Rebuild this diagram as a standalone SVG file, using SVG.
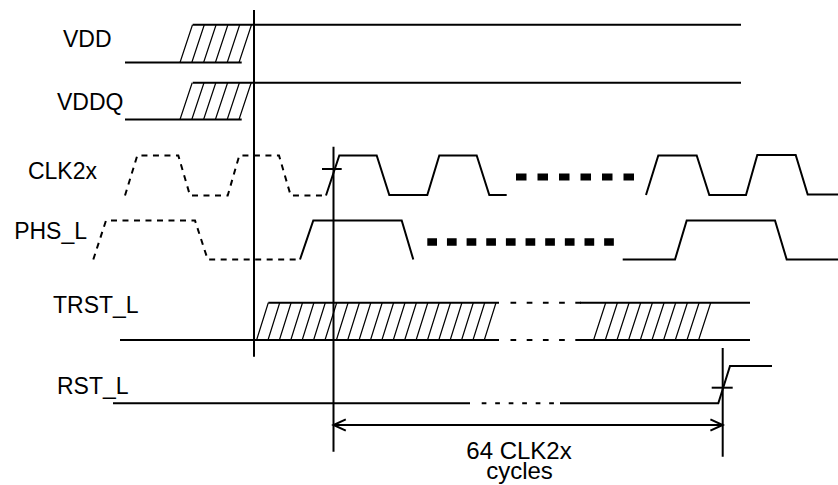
<svg xmlns="http://www.w3.org/2000/svg" width="838" height="485" viewBox="0 0 838 485">
<style>
.lbl{font-family:"Liberation Sans",Arial,sans-serif;font-size:23px;fill:#000}
.dim{font-family:"Liberation Sans",Arial,sans-serif;font-size:24px;fill:#000;text-anchor:middle}
.w{fill:none;stroke:#000;stroke-width:2;stroke-linejoin:miter}
.d{fill:none;stroke:#000;stroke-width:2;stroke-dasharray:6 5.5}
.h{fill:none;stroke:#000;stroke-width:1.2}
.big{fill:none;stroke:#000}
</style>
<rect width="838" height="485" fill="#fff"/>
<g id="VDD">
<text class="lbl" x="63" y="47">VDD</text>
<path class="w" d="M125,62.5H241.7M192.7,24.7H741"/>
<path class="h" d="M180,62.5l12.5,-37.8M191.8,62.5l12.5,-37.8M203.6,62.5l12.5,-37.8M215.4,62.5l12.5,-37.8M227.2,62.5l12.5,-37.8M239,62.5l12.5,-37.8"/>
</g>
<g id="VDDQ">
<text class="lbl" x="57" y="110">VDDQ</text>
<path class="w" d="M125,119.5H241.7M192.7,82.7H741"/>
<path class="h" d="M180,119.5l12.2,-36.8M191.8,119.5l12.2,-36.8M203.6,119.5l12.2,-36.8M215.4,119.5l12.2,-36.8M227.2,119.5l12.2,-36.8M239,119.5l12.2,-36.8"/>
</g>
<g id="CLK2x">
<text class="lbl" x="97" y="179" text-anchor="end">CLK2x</text>
<path class="d" d="M125,195.5L137.3,155.5H178.3L190,195.5H227.7L239.3,155.5H279L290.7,195.5H326"/>
<path class="w" d="M326,195.5L339.3,155.5H376.7L389.3,195H427.3L439.3,155.5H476.7L489.3,195H506.7"/>
<path class="w" d="M322,169H341.7"/>
<line class="big" x1="516" y1="177" x2="634" y2="177" stroke-width="7" stroke-dasharray="10.5 11"/>
<path class="w" d="M646,195L658.3,155.5H696.7L709.3,195H746L757.3,155H795.7L807.7,194.5H838"/>
</g>
<g id="PHS_L">
<text class="lbl" x="87" y="239" text-anchor="end">PHS_L</text>
<path class="d" d="M93.3,259.5L106,220.5H195L207.7,259.5H300"/>
<path class="w" d="M300,259.5L313.3,220.5H401.7L413.3,259.5"/>
<line class="big" x1="427.3" y1="242" x2="614" y2="242" stroke-width="7.5" stroke-dasharray="9.7 9.95"/>
<path class="w" d="M622.7,259.5H675L686.7,220.5H775L786.7,259.5H838"/>
</g>
<g id="TRST_L">
<text class="lbl" x="53" y="313">TRST_L</text>
<path class="w" d="M268.3,302.7H499M120,340H499M580,302.7H750M580,340H750"/>
<path class="w" d="M510.5,302.7H581M510.5,340H581" stroke-dasharray="5.7 10.5"/>
<path class="h" d="M256.6,340L268.3,302.7M268,340L279.7,302.7M279.4,340L291.1,302.7M290.8,340L302.5,302.7M302.2,340L313.9,302.7M313.6,340L325.3,302.7M325,340L336.7,302.7M336.4,340L348.1,302.7M347.7,340L359.4,302.7M359.1,340L370.8,302.7M370.5,340L382.2,302.7M381.9,340L393.6,302.7M393.3,340L405,302.7M404.7,340L416.4,302.7M416.1,340L427.8,302.7M427.5,340L439.2,302.7M438.8,340L450.5,302.7M450.2,340L461.9,302.7M461.6,340L473.3,302.7M473,340L484.7,302.7M484.3,340L496,302.7"/>
<path class="h" d="M593.6,340L605.7,302.7M605.3,340L617.4,302.7M617,340L629.1,302.7M628.6,340L640.7,302.7M640.3,340L652.4,302.7M652,340L664.1,302.7M663.6,340L675.7,302.7M675.3,340L687.4,302.7M687,340L699.1,302.7M698.6,340L710.7,302.7"/>
</g>
<g id="RST_L">
<text class="lbl" x="57" y="394">RST_L</text>
<path class="w" d="M113,403.3H470M560,403.3H718.3L730,366H772"/>
<path class="w" d="M481.7,403.3H555" stroke-dasharray="4.7 8.8"/>
<path class="w" d="M711.7,387.7H732.7"/>
</g>
<g id="connectors">
<path class="w" d="M254,10V356.7M333.5,146.7V451.7M722.7,348V456.7"/>
<path class="w" d="M333.5,425H722.7" stroke-width="1.6"/>
<path class="w" d="M345.8,419.3L333.5,425L345.8,430.7M710.4,419.3L722.7,425L710.4,430.7" stroke-width="1.5"/>
<text class="dim" x="519" y="459">64 CLK2x</text>
<text class="dim" x="519.5" y="479">cycles</text>
</g>
</svg>
